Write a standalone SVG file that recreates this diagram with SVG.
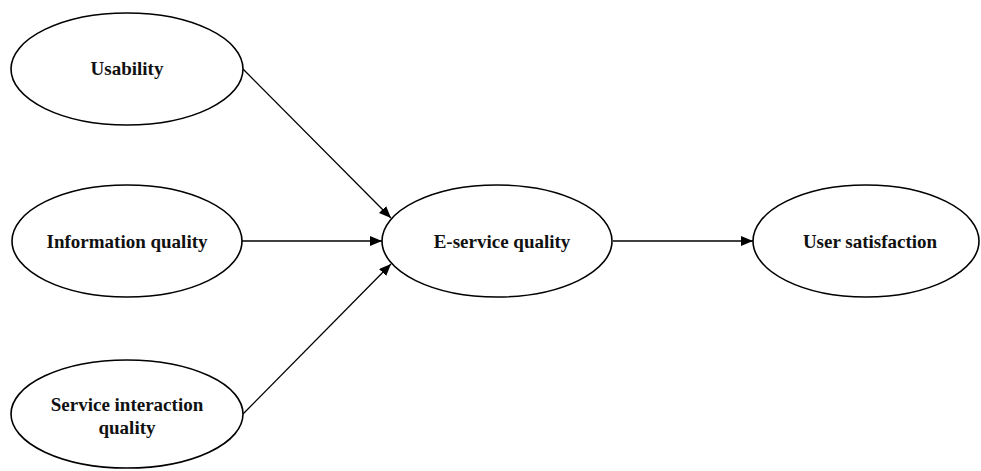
<svg xmlns="http://www.w3.org/2000/svg" width="981" height="471" viewBox="0 0 981 471">
<style>
.node ellipse{fill:#fff;stroke:#000;stroke-width:1.6}
.node text{font-family:"Liberation Serif","Times New Roman",serif;font-weight:bold;font-size:19px;fill:#111;text-anchor:middle}
.conn line{stroke:#000;stroke-width:1.3}
</style>
<defs>
<marker id="ah" viewBox="0 0 12 10" refX="12" refY="5" markerWidth="12" markerHeight="10" markerUnits="userSpaceOnUse" orient="auto">
<path d="M0,0 L12,5 L0,10 Z" fill="#000"/>
</marker>
</defs>
<rect width="981" height="471" fill="#fff"/>
<g id="connectors" class="conn">
<line x1="243" y1="69" x2="391" y2="218" marker-end="url(#ah)"/>
<line x1="242" y1="241" x2="382" y2="241" marker-end="url(#ah)"/>
<line x1="243" y1="414" x2="391" y2="264" marker-end="url(#ah)"/>
<line x1="613" y1="241" x2="753" y2="241" marker-end="url(#ah)"/>
</g>
<g id="usability" class="node">
<ellipse cx="127" cy="69" rx="116" ry="56"/>
<text x="127" y="75">Usability</text>
</g>
<g id="information-quality" class="node">
<ellipse cx="127" cy="241" rx="115" ry="56"/>
<text x="127" y="248">Information quality</text>
</g>
<g id="service-interaction-quality" class="node">
<ellipse cx="127" cy="414" rx="116" ry="54"/>
<text x="127" y="411">Service interaction</text>
<text x="127" y="434">quality</text>
</g>
<g id="e-service-quality" class="node">
<ellipse cx="497" cy="241" rx="115" ry="56"/>
<text x="502" y="248">E-service quality</text>
</g>
<g id="user-satisfaction" class="node">
<ellipse cx="866" cy="241" rx="113" ry="56"/>
<text x="870" y="248">User satisfaction</text>
</g>
</svg>
